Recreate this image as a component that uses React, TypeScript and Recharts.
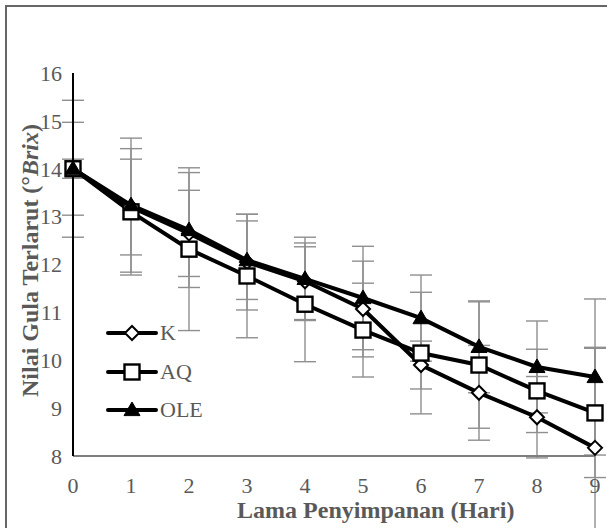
import React from 'react';
import { LineChart, Line, XAxis, YAxis, ErrorBar, Legend } from 'recharts';

// storage days
const days = [0, 1, 2, 3, 4, 5, 6, 7, 8, 9];

// dissolved sugar (°Brix) per treatment
const seriesNames = ['K', 'AQ', 'OLE'];
const kValues = [14, 13.2, 12.65, 12.05, 11.65, 11.07, 9.9, 9.32, 8.81, 8.17];
const aqValues = [14, 13.1, 12.32, 11.76, 11.17, 10.63, 10.15, 9.9, 9.36, 8.9];
const oleValues = [14, 13.24, 12.72, 12.09, 11.7, 11.3, 10.88, 10.28, 9.86, 9.65];

// standard deviations
const kErr = [0.97, 1.0, 0.9, 1.0, 0.8, 1.0, 0.5, 0.99, 0.85, 2.1];
const aqErr = [1.43, 1.32, 1.7, 1.29, 1.2, 0.98, 1.27, 1.32, 0.87, 1.35];
const oleErr = [0.2, 1.4, 1.2, 0.82, 0.87, 1.08, 0.9, 0.96, 0.96, 1.63];

const yTicks = [8, 9, 10, 11, 12, 13, 14, 15, 16];

const data = days.map((day, i) => ({
  day,
  K: kValues[i],
  AQ: aqValues[i],
  OLE: oleValues[i],
  kErr: kErr[i],
  aqErr: aqErr[i],
  oleErr: oleErr[i],
}));

const FONT = '"Liberation Serif", "Times New Roman", serif';
const GREY = '#595959';

const diamond = (props: any) => {
  const { cx, cy, key } = props;
  if (cx == null || cy == null) return null;
  const r = 7;
  return (
    <path key={key} d={`M${cx},${cy - r}L${cx + r},${cy}L${cx},${cy + r}L${cx - r},${cy}Z`}
      fill="#fff" stroke="#000" strokeWidth={2} />
  );
};

const square = (props: any) => {
  const { cx, cy, key } = props;
  if (cx == null || cy == null) return null;
  const r = 7.5;
  return <rect key={key} x={cx - r} y={cy - r} width={2 * r} height={2 * r} fill="#fff" stroke="#000" strokeWidth={2.4} />;
};

const triangle = (props: any) => {
  const { cx, cy, key } = props;
  if (cx == null || cy == null) return null;
  const r = 8;
  return (
    <path key={key} d={`M${cx},${cy - r}L${cx + r},${cy + r * 0.7}L${cx - r},${cy + r * 0.7}Z`}
      fill="#000" stroke="#000" strokeWidth={1} />
  );
};

const markers: Record<string, (p: any) => any> = { K: diamond, AQ: square, OLE: triangle };

const LegendContent = () => (
  <div style={{ display: 'flex', flexDirection: 'column' }}>
    {seriesNames.map((name) => (
      <div key={name} style={{ display: 'flex', alignItems: 'center', height: 38.5 }}>
        <svg width={54} height={22}>
          <line x1={3} y1={11} x2={51} y2={11} stroke="#000" strokeWidth={4} strokeLinecap="round" />
          {markers[name]({ cx: 27, cy: 11, key: 'm' })}
        </svg>
        <span style={{ fontFamily: FONT, fontSize: 22, color: GREY, marginLeft: 1, lineHeight: 1 }}>{name}</span>
      </div>
    ))}
  </div>
);

const YTitle = (props: any) => {
  const vb = props.viewBox || {};
  const x = vb.x + 30;
  const y = vb.y + vb.height / 2 - 4;
  return (
    <text x={x} y={y} transform={`rotate(-90 ${x} ${y})`} textAnchor="middle" dominantBaseline="central"
      fontFamily={FONT} fontSize={24} fontWeight="bold" fill={GREY}>
      Nilai Gula Terlarut (°<tspan fontStyle="italic">Brix</tspan>)
    </text>
  );
};

const XTitle = (props: any) => {
  const vb = props.viewBox || {};
  return (
    <text x={vb.x + vb.width * 0.58} y={vb.y + 62} textAnchor="middle"
      fontFamily={FONT} fontSize={24} fontWeight="bold" fill={GREY}>
      Lama Penyimpanan (Hari)
    </text>
  );
};

const tickStyle = { fontFamily: FONT, fontSize: 22, fill: GREY };
const errStyle = { stroke: '#8f8f8f', strokeWidth: 1.4, width: 11 };

export default function App() {
  return (
    <div style={{ position: 'absolute', left: 0, top: 0, width: 607, height: 528, background: '#fff', overflow: 'hidden' }}>
      <div style={{ position: 'absolute', left: 5, top: 5, width: 620, height: 540, borderTop: '2px solid #666', borderLeft: '2px solid #666' }} />
      <LineChart width={607} height={528} data={data} margin={{ top: 73, right: 12, bottom: 0, left: 0 }}>
        <XAxis dataKey="day" type="number" domain={[0, 9]} ticks={days} interval={0}
          tick={tickStyle} tickLine={false} tickMargin={15} height={72}
          axisLine={{ stroke: '#7f7f7f', strokeWidth: 2 }} label={<XTitle />} />
        <YAxis domain={[8, 16]} ticks={yTicks} interval={0} width={73}
          tick={tickStyle} tickLine={false} tickMargin={5}
          axisLine={{ stroke: '#000', strokeWidth: 2 }} label={<YTitle />} />
        <YAxis yAxisId="err" hide domain={[8, 16]} allowDataOverflow />

        {/* error bars first so that they sit behind every line */}
        <Line yAxisId="err" dataKey="K" stroke="none" dot={false} activeDot={false} legendType="none" isAnimationActive={false}>
          <ErrorBar dataKey="kErr" direction="y" {...errStyle} />
        </Line>
        <Line yAxisId="err" dataKey="AQ" stroke="none" dot={false} activeDot={false} legendType="none" isAnimationActive={false}>
          <ErrorBar dataKey="aqErr" direction="y" {...errStyle} />
        </Line>
        <Line yAxisId="err" dataKey="OLE" stroke="none" dot={false} activeDot={false} legendType="none" isAnimationActive={false}>
          <ErrorBar dataKey="oleErr" direction="y" {...errStyle} />
        </Line>

        <Line type="linear" dataKey="K" name="K" stroke="#000" strokeWidth={4} dot={diamond} activeDot={false} isAnimationActive={false} />
        <Line type="linear" dataKey="AQ" name="AQ" stroke="#000" strokeWidth={4} dot={square} activeDot={false} isAnimationActive={false} />
        <Line type="linear" dataKey="OLE" name="OLE" stroke="#000" strokeWidth={4} dot={triangle} activeDot={false} isAnimationActive={false} />

        <Legend layout="vertical" align="center" verticalAlign="middle" content={<LegendContent />}
          wrapperStyle={{ position: 'absolute', left: 105, top: 314, width: 110 }} />
      </LineChart>
    </div>
  );
}
